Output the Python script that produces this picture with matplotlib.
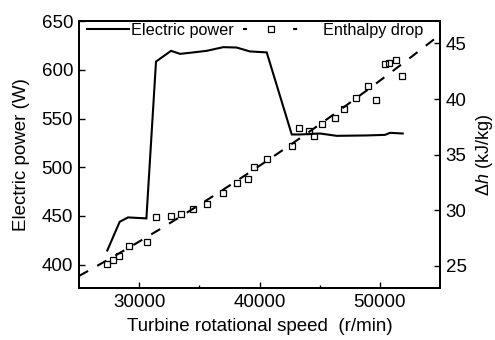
import numpy as np
import matplotlib
matplotlib.use("Agg")
import matplotlib.pyplot as plt
from matplotlib.lines import Line2D

# ---- data ----
speed_power = [27350, 28380, 29070, 30600, 31400, 32650, 33400, 34500, 35600,
               37000, 38100, 39200, 40600, 42680, 43370, 45030, 46410, 48900,
               50430, 50850, 51900]
power = [414.5, 444.0, 448.5, 447.5, 608.6, 619.6, 616.5, 618.0, 619.6,
         623.4, 623.0, 619.0, 618.0, 533.7, 533.7, 534.7, 532.3, 532.7,
         533.3, 535.4, 534.7]

speed_h = [27300, 27850, 28350, 29150, 30620, 31370, 32640, 33450, 34500,
           35660, 37000, 38100, 39020, 39570, 40650, 42680, 43290, 44090,
           44540, 45170, 46280, 47000, 48020, 49020, 49690, 50430, 50770,
           51350, 51880]
enthalpy = [25.15, 25.48, 25.90, 26.74, 27.18, 29.43, 29.46, 29.70, 30.15,
            30.57, 31.53, 32.43, 32.79, 33.92, 34.60, 35.78, 37.37, 37.15,
            36.65, 37.73, 38.29, 39.10, 40.09, 41.17, 39.88, 43.14, 43.23,
            43.47, 42.06]

x_ticks = [30000, 40000, 50000]
left_ticks = [400, 450, 500, 550, 600, 650]
right_ticks = [25, 30, 35, 40, 45]

plt.rcParams['font.family'] = ['Liberation Sans', 'DejaVu Sans']
plt.rcParams['mathtext.fontset'] = 'custom'
plt.rcParams['mathtext.rm'] = 'Liberation Sans'
plt.rcParams['mathtext.it'] = 'Liberation Sans:italic'
plt.rcParams['lines.scale_dashes'] = False

fig = plt.figure(figsize=(4.95, 3.4), dpi=100)
W, H = 495, 340
L, R, T, B = 79, 440, 21.25, 288
ax = fig.add_axes([L / W, 1 - B / H, (R - L) / W, (B - T) / H])
ax2 = ax.twinx()

lw_sp = 1.3
for a in (ax, ax2):
    for s in a.spines.values():
        s.set_linewidth(lw_sp)

ax.plot(speed_power, power, color='black', lw=1.5, solid_joinstyle='miter')

# fitted trend of enthalpy drop
coef = np.polyfit(speed_h, enthalpy, 2)
xf = np.linspace(25000, 55000, 300)
ax2.plot(xf, np.polyval(coef, xf), color='black', lw=1.5, dashes=(7.5, 7.5))
ax2.plot(speed_h, enthalpy, linestyle='none', marker='s', ms=3.8,
         mfc='none', mec='black', mew=0.9)

ax.set_xlim(25000, 55000)
ax.set_ylim(376, 650)
ax2.set_ylim(23, 47)
ax.set_xticks(x_ticks)
ax.set_xticks([35000, 45000], minor=True)
ax.set_yticks(left_ticks)
ax2.set_yticks(right_ticks)

fs = 13.5
ax.tick_params(axis='x', which='major', direction='in', length=4, width=1,
               labelsize=fs, pad=4.5, top=False)
ax.tick_params(axis='x', which='minor', direction='in', length=2.4, width=1,
               top=False)
ax.tick_params(axis='y', direction='in', length=4, width=1, labelsize=fs, pad=4.3)
ax2.tick_params(axis='y', direction='in', length=4, width=1, labelsize=fs, pad=4.0)

ax.set_xlabel('Turbine rotational speed  (r/min)', fontsize=fs, labelpad=4.6)
ax.set_ylabel('Electric power (W)', fontsize=fs, labelpad=8.5)
ax2.set_ylabel(r'$\mathit{\Delta h}$ (kJ/kg)', fontsize=13, labelpad=5)

lfs = 11.7
h1 = Line2D([], [], color='black', lw=1.5)
leg1 = ax2.legend([h1], ['Electric power'], loc='center left',
                  bbox_to_anchor=(0.0222, 0.967), frameon=False, fontsize=lfs,
                  handlelength=2.6, handletextpad=0.1, borderpad=0,
                  borderaxespad=0)
ax2.add_artist(leg1)
h2 = Line2D([], [], color='black', lw=1.5, dashes=(2.9, 33.2), marker='s',
            ms=3.8, mfc='none', mec='black', mew=0.9)
ax2.legend([h2], ['Enthalpy drop'], loc='center right',
           bbox_to_anchor=(0.953, 0.967), frameon=False, fontsize=lfs,
           handlelength=3.33, handletextpad=1.55, borderpad=0,
           borderaxespad=0)

fig.savefig('out.png', dpi=100)
